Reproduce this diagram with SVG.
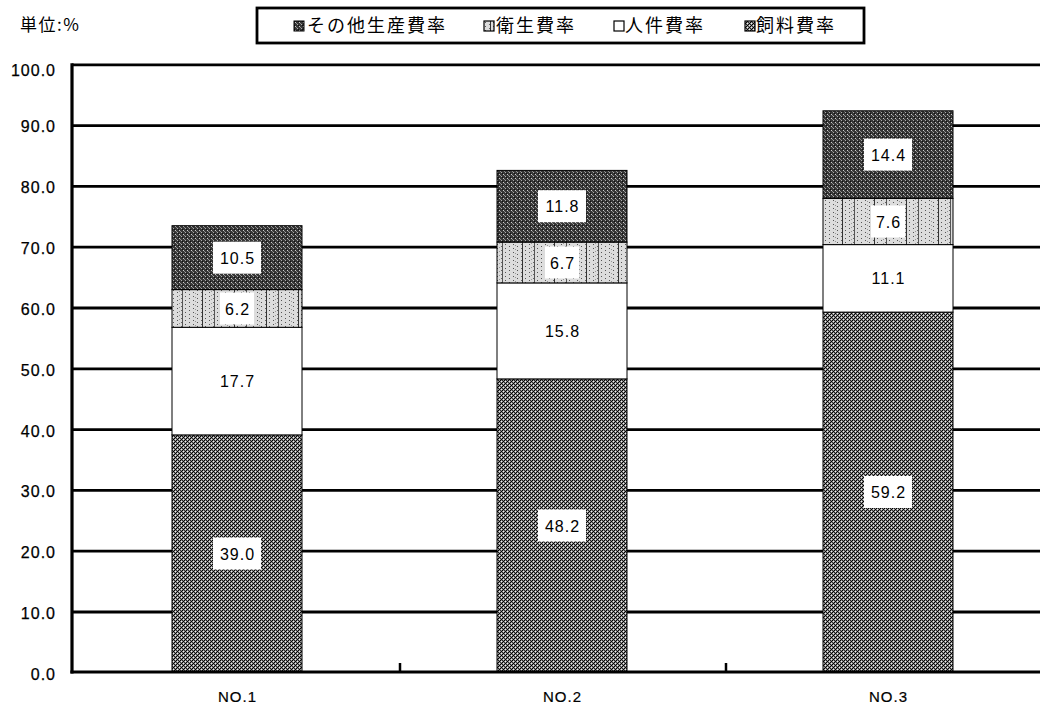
<svg xmlns="http://www.w3.org/2000/svg" width="1040" height="704" viewBox="0 0 1040 704">
<defs>
<style>
.grid{stroke:#000;stroke-width:2.8;fill:none}
.axis{stroke:#000;stroke-width:3.2;fill:none}
.seg{stroke:#000;stroke-width:1}
.yl{font-family:"Liberation Sans",Arial,sans-serif;font-size:16px;letter-spacing:1px;text-anchor:end;fill:#000;stroke:#000;stroke-width:0.25}
.xl{font-family:"Liberation Sans",Arial,sans-serif;font-size:15px;letter-spacing:1px;text-anchor:middle;fill:#000;stroke:#000;stroke-width:0.2}
.dl{font-family:"Liberation Sans",Arial,sans-serif;font-size:16px;letter-spacing:1px;text-anchor:middle;fill:#000}
.lg{font-family:"Noto Sans CJK JP","Noto Sans CJK SC",sans-serif;font-size:18px;fill:#000;letter-spacing:2px}
.box{fill:#fff}
</style>
<pattern id="pMid" width="4" height="4" patternUnits="userSpaceOnUse">
<rect width="4" height="4" fill="#8c8c8c"/>
<rect x="0" y="0" width="1" height="1" fill="#000"/>
<rect x="2" y="0" width="1" height="1" fill="#222"/>
<rect x="1" y="1" width="1" height="1" fill="#eee"/>
<rect x="3" y="1" width="1" height="1" fill="#000"/>
<rect x="0" y="2" width="1" height="1" fill="#333"/>
<rect x="2" y="2" width="1" height="1" fill="#000"/>
<rect x="1" y="3" width="1" height="1" fill="#000"/>
<rect x="3" y="3" width="1" height="1" fill="#eee"/>
</pattern>
<pattern id="pDark" width="4" height="4" patternUnits="userSpaceOnUse">
<rect width="4" height="4" fill="#363636"/>
<rect x="1" y="0" width="1" height="1" fill="#aaa"/>
<rect x="3" y="2" width="1" height="1" fill="#ccc"/>
<rect x="0" y="3" width="1" height="1" fill="#888"/>
<rect x="2" y="1" width="1" height="1" fill="#111"/>
</pattern>
<pattern id="pLight" width="32" height="4" patternUnits="userSpaceOnUse">
<rect width="32" height="4" fill="#dcdcdc"/>
<rect x="1" y="0" width="1" height="1" fill="#555"/>
<rect x="5" y="2" width="1" height="1" fill="#555"/>
<rect x="9" y="0" width="1" height="1" fill="#666"/>
<rect x="13" y="2" width="1" height="1" fill="#555"/>
<rect x="17" y="0" width="1" height="1" fill="#555"/>
<rect x="21" y="2" width="1" height="1" fill="#666"/>
<rect x="25" y="0" width="1" height="1" fill="#555"/>
<rect x="29" y="2" width="1" height="1" fill="#555"/>
<rect x="3" y="1" width="1" height="1" fill="#999"/>
<rect x="19" y="3" width="1" height="1" fill="#999"/>
<rect x="10" y="0" width="1" height="4" fill="#333"/>
<rect x="22" y="0" width="1" height="4" fill="#555"/>
</pattern>
</defs>
<rect width="1040" height="704" fill="#fff"/>

<g id="unit-label">
<text x="20" y="31" style="font-family:'Noto Sans CJK JP','Liberation Sans',sans-serif;font-size:17px;letter-spacing:1.5px;fill:#000">単位:%</text>
</g>

<g id="legend">
<rect x="257" y="8" width="607" height="35" fill="#fff" stroke="#000" stroke-width="2.8"/>
<rect x="294" y="21" width="10" height="10" fill="url(#pDark)" stroke="#000" stroke-width="1"/>
<text class="lg" x="307" y="32">その他生産費率</text>
<rect x="484" y="21" width="10" height="10" fill="url(#pLight)" stroke="#000" stroke-width="1.2"/>
<text class="lg" x="496" y="32">衛生費率</text>
<rect x="614" y="21" width="10" height="10" fill="#fff" stroke="#000" stroke-width="1.2"/>
<text class="lg" x="625" y="32">人件費率</text>
<rect x="745" y="21" width="10" height="10" fill="url(#pMid)" stroke="#000" stroke-width="1.2"/>
<text class="lg" x="756" y="32">飼料費率</text>
</g>

<g id="gridlines">
<line class="grid" x1="72" y1="64.8" x2="1040" y2="64.8"/>
<line class="grid" x1="72" y1="125.6" x2="1040" y2="125.6"/>
<line class="grid" x1="72" y1="186.4" x2="1040" y2="186.4"/>
<line class="grid" x1="72" y1="247.2" x2="1040" y2="247.2"/>
<line class="grid" x1="72" y1="308" x2="1040" y2="308"/>
<line class="grid" x1="72" y1="368.8" x2="1040" y2="368.8"/>
<line class="grid" x1="72" y1="429.6" x2="1040" y2="429.6"/>
<line class="grid" x1="72" y1="490.4" x2="1040" y2="490.4"/>
<line class="grid" x1="72" y1="551.2" x2="1040" y2="551.2"/>
<line class="grid" x1="72" y1="612" x2="1040" y2="612"/>
</g>

<g id="y-labels">
<text class="yl" x="56" y="76">100.0</text>
<text class="yl" x="56" y="132">90.0</text>
<text class="yl" x="56" y="193">80.0</text>
<text class="yl" x="56" y="254">70.0</text>
<text class="yl" x="56" y="315">60.0</text>
<text class="yl" x="56" y="376">50.0</text>
<text class="yl" x="56" y="437">40.0</text>
<text class="yl" x="56" y="497">30.0</text>
<text class="yl" x="56" y="558">20.0</text>
<text class="yl" x="56" y="619">10.0</text>
<text class="yl" x="56" y="680">0.0</text>
</g>

<g id="bar-no1">
<rect class="seg" x="172" y="434.9" width="130" height="237.1" fill="url(#pMid)"/>
<rect class="seg" x="172" y="327.3" width="130" height="107.6" fill="#fff"/>
<rect class="seg" x="172" y="289.6" width="130" height="37.7" fill="url(#pLight)"/>
<rect class="seg" x="172" y="225.7" width="130" height="63.9" fill="url(#pDark)"/>
<rect class="box" x="213" y="537.5" width="48" height="32"/>
<text class="dl" x="237.5" y="559.5">39.0</text>
<text class="dl" x="237.5" y="387">17.7</text>
<rect class="box" x="220" y="292.5" width="34" height="32"/>
<text class="dl" x="237.5" y="314.5">6.2</text>
<rect class="box" x="213" y="241.7" width="48" height="32"/>
<text class="dl" x="237.5" y="263.7">10.5</text>
</g>

<g id="bar-no2">
<rect class="seg" x="497" y="378.9" width="130" height="293.1" fill="url(#pMid)"/>
<rect class="seg" x="497" y="282.9" width="130" height="96" fill="#fff"/>
<rect class="seg" x="497" y="242.1" width="130" height="40.8" fill="url(#pLight)"/>
<rect class="seg" x="497" y="170.4" width="130" height="71.7" fill="url(#pDark)"/>
<rect class="box" x="538" y="509.5" width="48" height="32"/>
<text class="dl" x="562.5" y="531.5">48.2</text>
<text class="dl" x="562.5" y="337">15.8</text>
<rect class="box" x="545" y="246.5" width="34" height="32"/>
<text class="dl" x="562.5" y="268.5">6.7</text>
<rect class="box" x="538" y="190.2" width="48" height="32"/>
<text class="dl" x="562.5" y="212.2">11.8</text>
</g>

<g id="bar-no3">
<rect class="seg" x="823" y="312.1" width="130" height="359.9" fill="url(#pMid)"/>
<rect class="seg" x="823" y="244.6" width="130" height="67.5" fill="#fff"/>
<rect class="seg" x="823" y="198.4" width="130" height="46.2" fill="url(#pLight)"/>
<rect class="seg" x="823" y="110.8" width="130" height="87.6" fill="url(#pDark)"/>
<rect class="box" x="864" y="476" width="48" height="32"/>
<text class="dl" x="888.5" y="498">59.2</text>
<text class="dl" x="888.5" y="284">11.1</text>
<rect class="box" x="871" y="205.5" width="34" height="32"/>
<text class="dl" x="888.5" y="227.5">7.6</text>
<rect class="box" x="864" y="138.6" width="48" height="32"/>
<text class="dl" x="888.5" y="160.6">14.4</text>
</g>

<g id="axes">
<line class="axis" x1="72" y1="63.2" x2="72" y2="673.6"/>
<line class="axis" x1="70.4" y1="672" x2="1040" y2="672"/>
<line x1="400" y1="663" x2="400" y2="672" stroke="#000" stroke-width="2.5"/>
<line x1="726" y1="663" x2="726" y2="672" stroke="#000" stroke-width="2.5"/>
</g>

<g id="x-labels">
<text class="xl" x="237.5" y="702">NO.1</text>
<text class="xl" x="562.5" y="702">NO.2</text>
<text class="xl" x="888.5" y="702">NO.3</text>
</g>
</svg>
